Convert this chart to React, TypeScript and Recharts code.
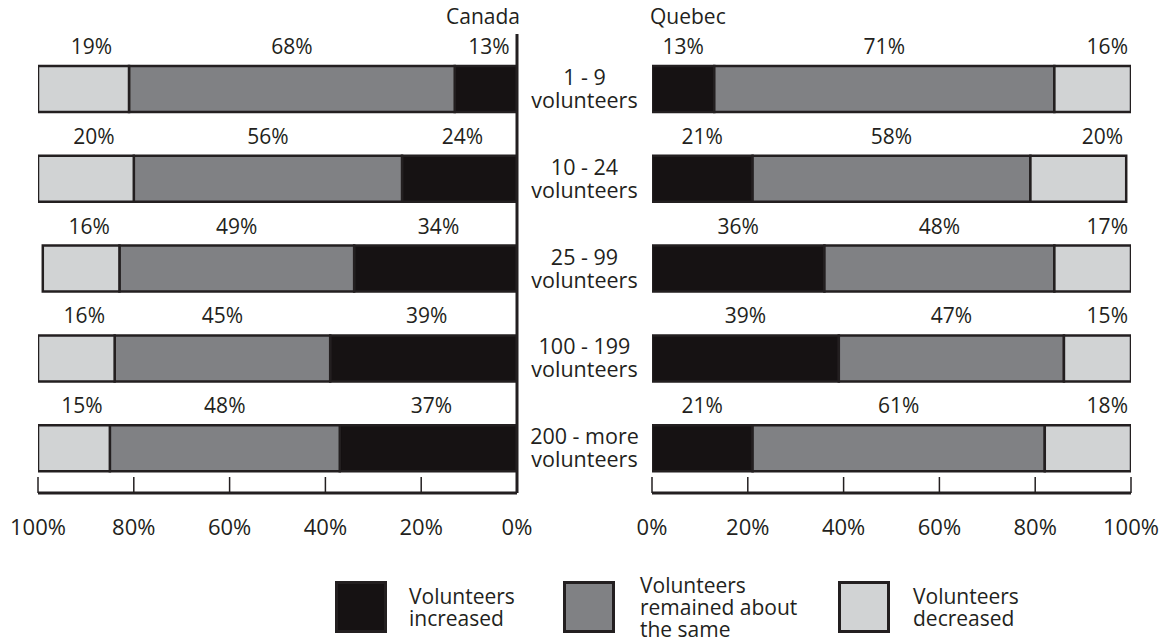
import React from 'react';
import { BarChart, Bar, XAxis, YAxis, LabelList } from 'recharts';

// Size-of-organization groups (first line of each category label)
const groupRanges = ['1 - 9', '10 - 24', '25 - 99', '100 - 199', '200 - more'];
const groupUnit = 'volunteers';

// Canada, share of organizations (%)
const canadaIncreased = [13, 24, 34, 39, 37];
const canadaSame = [68, 56, 49, 45, 48];
const canadaDecreased = [19, 20, 16, 16, 15];

// Quebec, share of organizations (%)
const quebecIncreased = [13, 21, 36, 39, 21];
const quebecSame = [71, 58, 48, 47, 61];
const quebecDecreased = [16, 20, 17, 15, 18];

const percentTicks = [0, 20, 40, 60, 80, 100];

const panelTitles = ['Canada', 'Quebec'];

const legendItems = [
  { key: 'increased', lines: ['Volunteers', 'increased'] },
  { key: 'same', lines: ['Volunteers', 'remained about', 'the same'] },
  { key: 'decreased', lines: ['Volunteers', 'decreased'] },
];

const COLORS: Record<string, string> = {
  increased: '#161213',
  same: '#808184',
  decreased: '#d1d3d4',
};
const INK = '#231f20';
const FONT = '"Open Sans", "Noto Sans", sans-serif';

const canadaData = groupRanges.map((g, i) => ({
  group: g,
  increased: canadaIncreased[i],
  same: canadaSame[i],
  decreased: canadaDecreased[i],
}));

const quebecData = groupRanges.map((g, i) => ({
  group: g,
  increased: quebecIncreased[i],
  same: quebecSame[i],
  decreased: quebecDecreased[i],
}));

// Value label drawn above a bar segment
const makeLabel = (mode: 'center' | 'end', shift = 0) => (props: any) => {
  const { x, y, width, value } = props;
  const left = Math.min(Number(x), Number(x) + Number(width));
  const right = Math.max(Number(x), Number(x) + Number(width));
  const tx = mode === 'end' ? right - 3 : (left + right) / 2 + shift;
  return (
    <text
      x={tx}
      y={Number(y) - 12}
      textAnchor={mode === 'end' ? 'end' : 'middle'}
      fontSize={21}
      fontFamily={FONT}
      fill={INK}
    >
      {value}%
    </text>
  );
};

// Bottom axis tick: short mark pointing up, label well below the axis line
const PercentTick = (props: any) => {
  const { x, y, payload } = props;
  return (
    <g>
      <line x1={x} x2={x} y1={y} y2={y - 16} stroke={INK} strokeWidth={1.5} />
      <text x={x} y={y + 42} textAnchor="middle" fontSize={22} fontFamily={FONT} fill={INK}>
        {payload.value}%
      </text>
    </g>
  );
};

// Two-line group label centred between the two panels
const GroupTick = (props: any) => {
  const { x, y, payload } = props;
  return (
    <foreignObject x={x} y={y - 24} width={135} height={50}>
      <div
        style={{
          width: 135,
          textAlign: 'center',
          fontFamily: FONT,
          fontSize: 21.5,
          lineHeight: '23px',
          color: INK,
          whiteSpace: 'pre',
        }}
      >
        {`${payload.value}\n${groupUnit}`}
      </div>
    </foreignObject>
  );
};

const axisLine = { stroke: INK, strokeWidth: 3 };

const renderBars = (decreasedLabel: (p: any) => React.ReactElement, increasedLabel: (p: any) => React.ReactElement) =>
  (['increased', 'same', 'decreased'] as const).map((key) => (
    <Bar
      key={key}
      dataKey={key}
      stackId="s"
      fill={COLORS[key]}
      stroke={INK}
      strokeWidth={2.5}
      barSize={46}
      isAnimationActive={false}
    >
      <LabelList
        dataKey={key}
        content={
          key === 'decreased'
            ? decreasedLabel
            : key === 'increased'
            ? increasedLabel
            : makeLabel('center')
        }
      />
    </Bar>
  ));

export default function App() {
  return (
    <div
      style={{
        position: 'absolute',
        left: 0,
        top: 0,
        width: 1167,
        height: 641,
        background: '#ffffff',
        fontFamily: FONT,
        color: INK,
      }}
    >
      <div style={{ position: 'absolute', left: 0, top: 0 }}>
        <BarChart
          width={652}
          height={560}
          data={canadaData}
          layout="vertical"
          margin={{ top: 34, right: 0, bottom: 0, left: 38 }}
        >
          <XAxis
            type="number"
            domain={[0, 100]}
            reversed
            ticks={percentTicks}
            interval={0}
            tick={<PercentTick />}
            tickLine={false}
            tickSize={0}
            tickMargin={0}
            axisLine={axisLine}
            height={67}
            allowDataOverflow
          />
          <YAxis
            type="category"
            dataKey="group"
            orientation="right"
            width={135}
            tick={<GroupTick />}
            tickLine={false}
            tickSize={0}
            tickMargin={0}
            axisLine={axisLine}
            padding={{ top: 10, bottom: 0 }}
            interval={0}
          />
          {renderBars(makeLabel('center', 8), makeLabel('center', 3))}
        </BarChart>
      </div>

      <div style={{ position: 'absolute', left: 600, top: 0 }}>
        <BarChart
          width={567}
          height={560}
          data={quebecData}
          layout="vertical"
          margin={{ top: 44, right: 36, bottom: 0, left: 52 }}
        >
          <XAxis
            type="number"
            domain={[0, 100]}
            ticks={percentTicks}
            interval={0}
            tick={<PercentTick />}
            tickLine={false}
            tickSize={0}
            tickMargin={0}
            axisLine={axisLine}
            height={67}
            allowDataOverflow
          />
          <YAxis
            type="category"
            dataKey="group"
            orientation="left"
            width={0}
            tick={false}
            tickLine={false}
            axisLine={axisLine}
          />
          {renderBars(makeLabel('end'), makeLabel('center'))}
        </BarChart>
      </div>

      {/* Panel titles */}
      <div
        style={{
          position: 'absolute',
          right: 1167 - 520,
          top: 2,
          fontSize: 21,
          lineHeight: '28px',
          textAlign: 'right',
        }}
      >
        {panelTitles[0]}
      </div>
      <div style={{ position: 'absolute', left: 650, top: 2, fontSize: 21, lineHeight: '28px' }}>
        {panelTitles[1]}
      </div>

      {/* Legend */}
      {legendItems.map((item, i) => {
        const boxLeft = [335, 563, 838][i];
        const textLeft = [409, 640, 913][i];
        const lineCount = item.lines.length;
        const textTop = 607 - (lineCount * 22) / 2;
        return (
          <React.Fragment key={item.key}>
            <div
              style={{
                position: 'absolute',
                left: boxLeft,
                top: 581,
                width: 52,
                height: 52,
                boxSizing: 'border-box',
                border: `3px solid ${INK}`,
                background: COLORS[item.key],
              }}
            />
            <div
              style={{
                position: 'absolute',
                left: textLeft,
                top: textTop,
                fontSize: 21,
                lineHeight: '22px',
                whiteSpace: 'pre',
              }}
            >
              {item.lines.join('\n')}
            </div>
          </React.Fragment>
        );
      })}
    </div>
  );
}
